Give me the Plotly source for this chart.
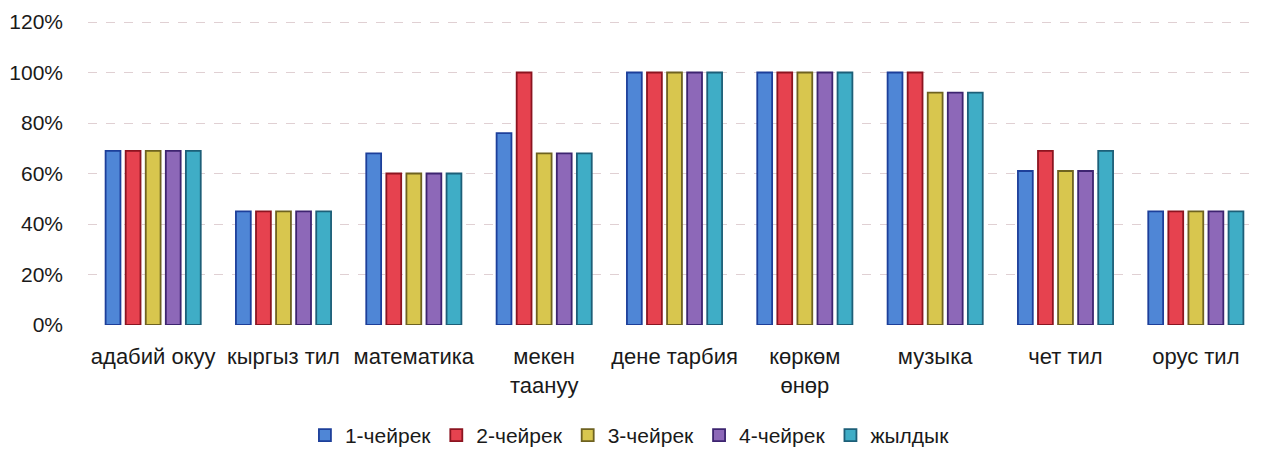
import plotly.graph_objects as go

categories = ["адабий окуу", "кыргыз тил", "математика", "мекен<br>таануу",
              "дене тарбия", "көркөм<br>өнөр", "музыка", "чет тил", "орус тил"]
series_names = ["1-чейрек", "2-чейрек", "3-чейрек", "4-чейрек", "жылдык"]
q1 = [0.69, 0.45, 0.68, 0.76, 1.00, 1.00, 1.00, 0.61, 0.45]
q2 = [0.69, 0.45, 0.60, 1.00, 1.00, 1.00, 1.00, 0.69, 0.45]
q3 = [0.69, 0.45, 0.60, 0.68, 1.00, 1.00, 0.92, 0.61, 0.45]
q4 = [0.69, 0.45, 0.60, 0.68, 1.00, 1.00, 0.92, 0.61, 0.45]
year = [0.69, 0.45, 0.60, 0.68, 1.00, 1.00, 0.92, 0.69, 0.45]
y_ticks = [0, 0.2, 0.4, 0.6, 0.8, 1.0, 1.2]

fill_colors = ["#4f86d6", "#e6424f", "#d8c64e", "#8d68b8", "#3fadc6"]
line_colors = ["#1d3f9a", "#8c1420", "#6e6220", "#3d2470", "#1d5f78"]

fig = go.Figure()
for name, vals, fc, lc in zip(series_names, [q1, q2, q3, q4, year], fill_colors, line_colors):
    fig.add_trace(go.Bar(
        x=categories, y=vals, name=name,
        marker=dict(color=fc, line=dict(color=lc, width=1.8)),
    ))

font_family = "Liberation Sans, Arial, sans-serif"
fig.update_layout(
    width=1255, height=442,
    margin=dict(l=80, r=2, t=12, b=125, autoexpand=False),
    paper_bgcolor="white", plot_bgcolor="white",
    barmode="group", bargap=0.23, bargroupgap=0.26,
    font=dict(family=font_family, size=21, color="#1a1a1a"),
    showlegend=True,
    legend=dict(orientation="h", x=0.462, xanchor="center", y=-0.295, yanchor="top",
                font=dict(size=21), itemwidth=30, tracegroupgap=0),
)
fig.update_yaxes(range=[0, 1.208], tickvals=y_ticks, tickformat=".0%",
                 showgrid=True, gridcolor="#e0d0d3", griddash="dash", gridwidth=1,
                 zeroline=False, showline=False, ticks="", ticklabelstandoff=24,
                 tickfont=dict(size=21), automargin=False)
fig.update_xaxes(showline=False, ticks="", showgrid=False, ticklabelstandoff=16,
                 tickfont=dict(size=22), tickangle=0, automargin=False)

fig.write_html("out.html")
